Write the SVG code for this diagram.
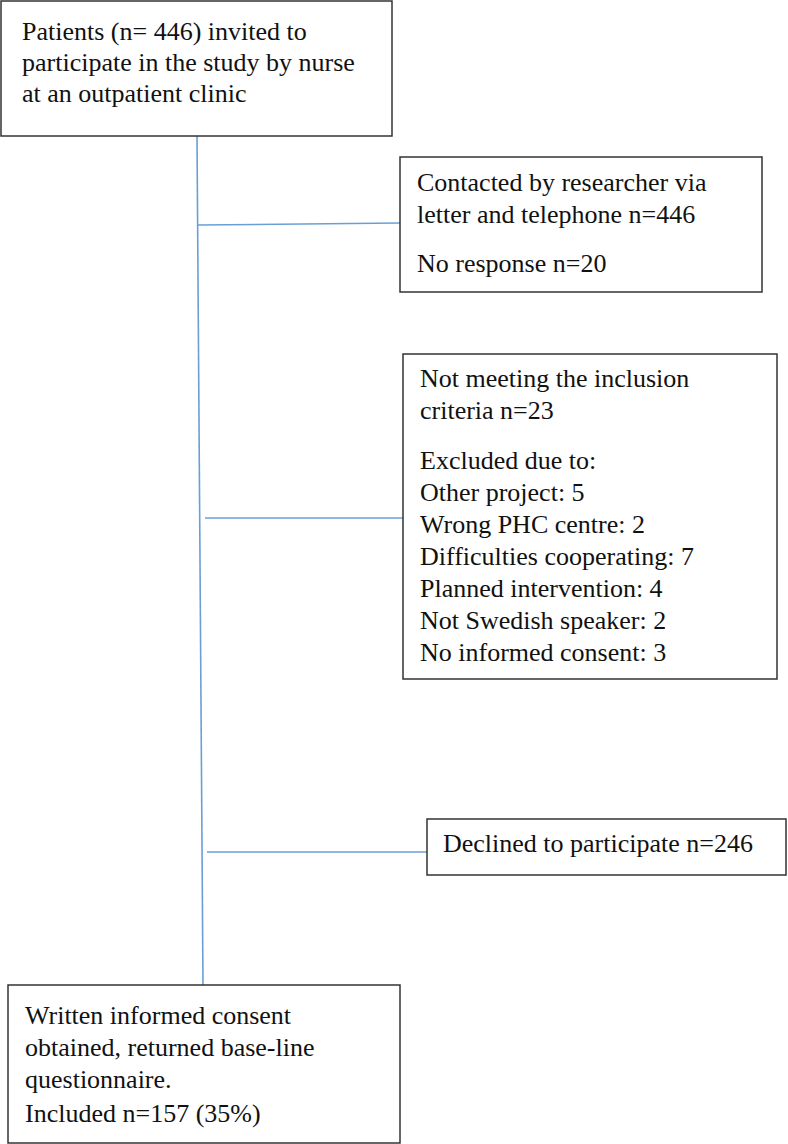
<svg xmlns="http://www.w3.org/2000/svg" width="788" height="1144" viewBox="0 0 788 1144">
<style>
.box{fill:#fff;stroke:#333;stroke-width:1.5}
.t{font-family:"Liberation Serif","Times New Roman",serif;font-size:26px;fill:#111}
.c{stroke:#6a9fd6;stroke-width:1.6;fill:none}
</style>
<rect width="788" height="1144" fill="#fff"/>
<g id="connectors">
<line class="c" x1="197" y1="136" x2="203" y2="985"/>
<line class="c" x1="198" y1="225" x2="400" y2="223"/>
<line class="c" x1="205" y1="518" x2="403" y2="518"/>
<line class="c" x1="207" y1="852" x2="427" y2="852"/>
</g>
<g id="n1">
<rect class="box" x="1" y="1" width="391" height="135"/>
<text class="t" x="22" y="40">Patients (n= 446) invited to</text>
<text class="t" x="22" y="71">participate in the study by nurse</text>
<text class="t" x="22" y="102">at an outpatient clinic</text>
</g>
<g id="n2">
<rect class="box" x="400" y="157" width="362" height="135"/>
<text class="t" x="417" y="191">Contacted by researcher via</text>
<text class="t" x="417" y="223">letter and telephone n=446</text>
<text class="t" x="417" y="272">No response n=20</text>
</g>
<g id="n3">
<rect class="box" x="403" y="354" width="374" height="325"/>
<text class="t" x="420" y="387">Not meeting the inclusion</text>
<text class="t" x="420" y="419">criteria n=23</text>
<text class="t" x="420" y="469">Excluded due to:</text>
<text class="t" x="420" y="501">Other project: 5</text>
<text class="t" x="420" y="533">Wrong PHC centre: 2</text>
<text class="t" x="420" y="565">Difficulties cooperating: 7</text>
<text class="t" x="420" y="597">Planned intervention: 4</text>
<text class="t" x="420" y="629">Not Swedish speaker: 2</text>
<text class="t" x="420" y="661">No informed consent: 3</text>
</g>
<g id="n4">
<rect class="box" x="427" y="819" width="359" height="56"/>
<text class="t" x="443" y="852">Declined to participate n=246</text>
</g>
<g id="n5">
<rect class="box" x="8" y="985" width="392" height="158"/>
<text class="t" x="25" y="1024">Written informed consent</text>
<text class="t" x="25" y="1056">obtained, returned base-line</text>
<text class="t" x="25" y="1088">questionnaire.</text>
<text class="t" x="25" y="1122">Included n=157 (35%)</text>
</g>
</svg>
